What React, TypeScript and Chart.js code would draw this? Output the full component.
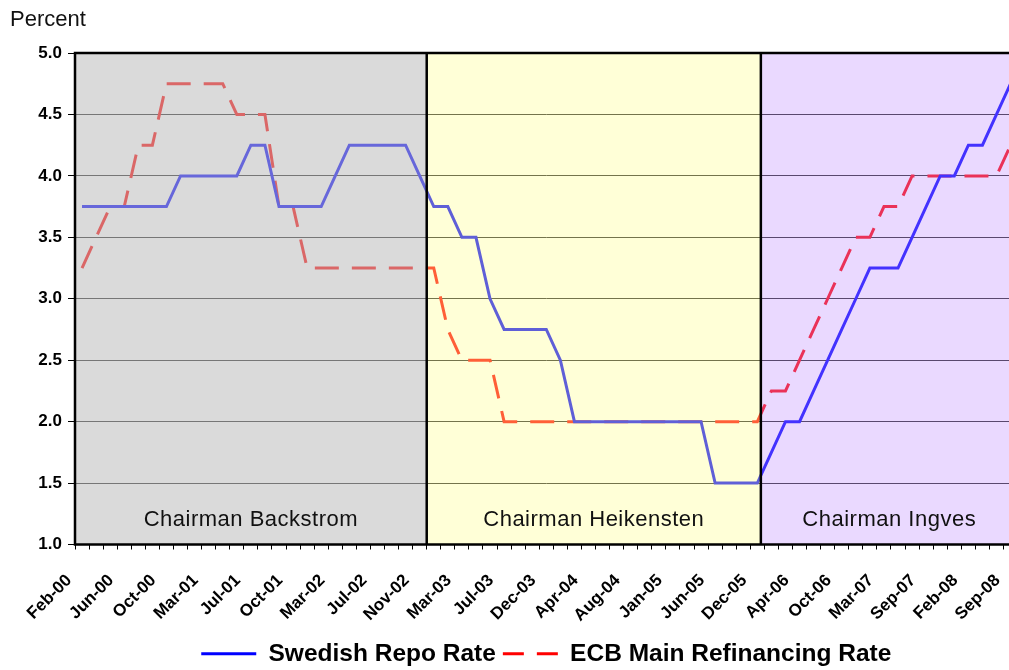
import React, { useEffect, useRef } from 'react';
import { Chart, registerables } from 'chart.js';

Chart.register(...registerables);

const FONT = '"Liberation Sans", Arial, sans-serif';

const categories = [
  'Feb-00', 'Mar-00', 'Apr-00', 'Jun-00', 'Jul-00', 'Aug-00', 'Oct-00', 'Dec-00',
  'Feb-01', 'Mar-01', 'Apr-01', 'May-01', 'Jul-01', 'Aug-01', 'Sep-01', 'Oct-01',
  'Dec-01', 'Feb-02', 'Mar-02', 'Apr-02', 'Jun-02', 'Jul-02', 'Aug-02', 'Oct-02',
  'Nov-02', 'Dec-02', 'Feb-03', 'Mar-03', 'Apr-03', 'Jun-03', 'Jul-03', 'Sep-03',
  'Oct-03', 'Dec-03', 'Feb-04', 'Mar-04', 'Apr-04', 'May-04', 'Jun-04', 'Aug-04',
  'Oct-04', 'Dec-04', 'Jan-05', 'Mar-05', 'Apr-05', 'Jun-05', 'Sep-05', 'Oct-05',
  'Dec-05', 'Jan-06', 'Feb-06', 'Apr-06', 'Jun-06', 'Aug-06', 'Oct-06', 'Dec-06',
  'Feb-07', 'Mar-07', 'Jun-07', 'Jul-07', 'Sep-07', 'Oct-07', 'Dec-07', 'Feb-08',
  'Apr-08', 'Jul-08', 'Sep-08',
];

const swedishRepoRate = [
  3.75, 3.75, 3.75, 3.75, 3.75, 3.75, 3.75, 4.0,
  4.0, 4.0, 4.0, 4.0, 4.25, 4.25, 3.75, 3.75,
  3.75, 3.75, 4.0, 4.25, 4.25, 4.25, 4.25, 4.25,
  4.0, 3.75, 3.75, 3.5, 3.5, 3.0, 2.75, 2.75,
  2.75, 2.75, 2.5, 2.0, 2.0, 2.0, 2.0, 2.0,
  2.0, 2.0, 2.0, 2.0, 2.0, 1.5, 1.5, 1.5,
  1.5, 1.75, 2.0, 2.0, 2.25, 2.5, 2.75, 3.0,
  3.25, 3.25, 3.25, 3.5, 3.75, 4.0, 4.0, 4.25,
  4.25, 4.5, 4.75,
];

const ecbMainRefiRate = [
  3.25, 3.5, 3.75, 3.75, 4.25, 4.25, 4.75, 4.75,
  4.75, 4.75, 4.75, 4.5, 4.5, 4.5, 3.75, 3.75,
  3.25, 3.25, 3.25, 3.25, 3.25, 3.25, 3.25, 3.25,
  3.25, 3.25, 2.75, 2.5, 2.5, 2.5, 2.0, 2.0,
  2.0, 2.0, 2.0, 2.0, 2.0, 2.0, 2.0, 2.0,
  2.0, 2.0, 2.0, 2.0, 2.0, 2.0, 2.0, 2.0,
  2.0, 2.25, 2.25, 2.5, 2.75, 3.0, 3.25, 3.5,
  3.5, 3.75, 3.75, 4.0, 4.0, 4.0, 4.0, 4.0,
  4.0, 4.0, 4.25,
];

const seriesNames = ['Swedish Repo Rate', 'ECB Main Refinancing Rate'];

const yMin = 1.0;
const yMax = 5.0;
const yStep = 0.5;
const labelEvery = 3;

// Chairman periods (start position in category index units)
const chairmanNames = ['Chairman Backstrom', 'Chairman Heikensten', 'Chairman Ingves'];
const chairmanStarts = [-0.5, 24.5, 48.25];
const chairmanOverlays = [
  'rgba(188,188,188,0.55)',
  'rgba(255,255,147,0.373)',
  'rgba(194,145,255,0.345)',
];

const regionPlugin = {
  id: 'regions',
  afterDatasetsDraw(chart: any) {
    const { ctx, chartArea, scales } = chart;
    const x = scales.x;
    ctx.save();
    ctx.beginPath();
    ctx.rect(chartArea.left, chartArea.top, chartArea.right - chartArea.left, chartArea.bottom - chartArea.top);
    ctx.clip();
    const edges = chairmanStarts.map((s) => x.getPixelForValue(s));
    edges.push(chartArea.right);
    for (let i = 0; i < chairmanNames.length; i++) {
      ctx.fillStyle = chairmanOverlays[i];
      ctx.fillRect(edges[i], chartArea.top, edges[i + 1] - edges[i], chartArea.bottom - chartArea.top);
    }
    ctx.restore();

    ctx.save();
    ctx.strokeStyle = '#000';
    ctx.lineWidth = 2.5;
    for (let i = 1; i < chairmanNames.length; i++) {
      ctx.beginPath();
      ctx.moveTo(edges[i], chartArea.top);
      ctx.lineTo(edges[i], chartArea.bottom);
      ctx.stroke();
    }
    ctx.strokeRect(chartArea.left, chartArea.top, chartArea.right - chartArea.left, chartArea.bottom - chartArea.top);

    ctx.fillStyle = '#111';
    ctx.font = `22px ${FONT}`;
    try { (ctx as any).letterSpacing = '0.5px'; } catch (e) {}
    ctx.textAlign = 'center';
    ctx.textBaseline = 'middle';
    for (let i = 0; i < chairmanNames.length; i++) {
      ctx.fillText(chairmanNames[i], (edges[i] + edges[i + 1]) / 2, chartArea.bottom - 25);
    }
    ctx.restore();
  },
  afterDraw(chart: any) {
    const { ctx } = chart;
    ctx.save();
    ctx.fillStyle = '#111';
    ctx.font = `22px ${FONT}`;
    ctx.textAlign = 'left';
    ctx.textBaseline = 'alphabetic';
    ctx.fillText('Percent', 10, 25.5);
    ctx.restore();
  },
};

export default function App() {
  const canvasRef = useRef<HTMLCanvasElement | null>(null);

  useEffect(() => {
    if (!canvasRef.current) return;
    const chart = new Chart(canvasRef.current, {
      type: 'line',
      data: {
        labels: categories,
        datasets: [
          {
            label: seriesNames[0],
            data: swedishRepoRate,
            borderColor: '#0000ff',
            backgroundColor: '#0000ff',
            borderWidth: 3,
            pointRadius: 0,
            pointStyle: 'line',
            tension: 0,
            fill: false,
          },
          {
            label: seriesNames[1],
            data: ecbMainRefiRate,
            borderColor: '#ff0000',
            backgroundColor: '#ff0000',
            borderWidth: 3,
            borderDash: [24, 13],
            pointRadius: 0,
            pointStyle: 'line',
            tension: 0,
            fill: false,
          },
        ],
      },
      options: {
        responsive: false,
        animation: false,
        devicePixelRatio: 1,
        layout: { padding: { top: 53, left: 0, right: 0, bottom: 0 } },
        plugins: {
          legend: {
            position: 'bottom',
            fullSize: false,
            labels: {
              usePointStyle: true,
              pointStyle: 'line',
              pointStyleWidth: 55,
              padding: 7,
              color: '#000',
              font: { family: FONT, size: 24.5, weight: 'bold' },
              generateLabels: (c: any) => {
                const items = (Chart.defaults.plugins.legend.labels as any).generateLabels(c);
                return items.map((it: any) => {
                  const ds: any = c.data.datasets[it.datasetIndex];
                  return {
                    ...it,
                    strokeStyle: ds.borderColor,
                    lineWidth: 3,
                    lineDash: ds.borderDash ? [21, 13] : [],
                  };
                });
              },
            },
          },
          tooltip: { enabled: false },
        },
        scales: {
          x: {
            type: 'category',
            offset: true,
            afterFit: (scale: any) => { scale.height = 90; },
            grid: {
              display: true,
              offset: true,
              drawOnChartArea: false,
              drawTicks: true,
              tickLength: 5,
              tickColor: '#000',
              tickWidth: 1,
            },
            border: { display: false },
            ticks: {
              autoSkip: false,
              maxRotation: 45,
              minRotation: 45,
              padding: 21,
              labelOffset: -13,
              color: '#000',
              font: { family: FONT, size: 17, weight: 'bold' },
              callback: (_v: any, idx: number) => (idx % labelEvery === 0 ? categories[idx] : ''),
            },
          },
          y: {
            min: yMin,
            max: yMax,
            afterFit: (scale: any) => { scale.width = 75; },
            grid: {
              color: '#222',
              lineWidth: 1,
              drawTicks: true,
              tickLength: 7,
              tickColor: '#000',
            },
            border: { display: false },
            ticks: {
              stepSize: yStep,
              padding: 6,
              color: '#000',
              font: { family: FONT, size: 17, weight: 'bold' },
              callback: (v: any) => Number(v).toFixed(1),
            },
          },
        },
      },
      plugins: [regionPlugin],
    });
    return () => chart.destroy();
  }, []);

  return (
    <div style={{ position: 'absolute', left: 0, top: 0, width: 1009, height: 670, overflow: 'hidden', background: '#fff' }}>
      <canvas ref={canvasRef} width={1046} height={676} style={{ display: 'block', width: 1046, height: 676 }} />
    </div>
  );
}
